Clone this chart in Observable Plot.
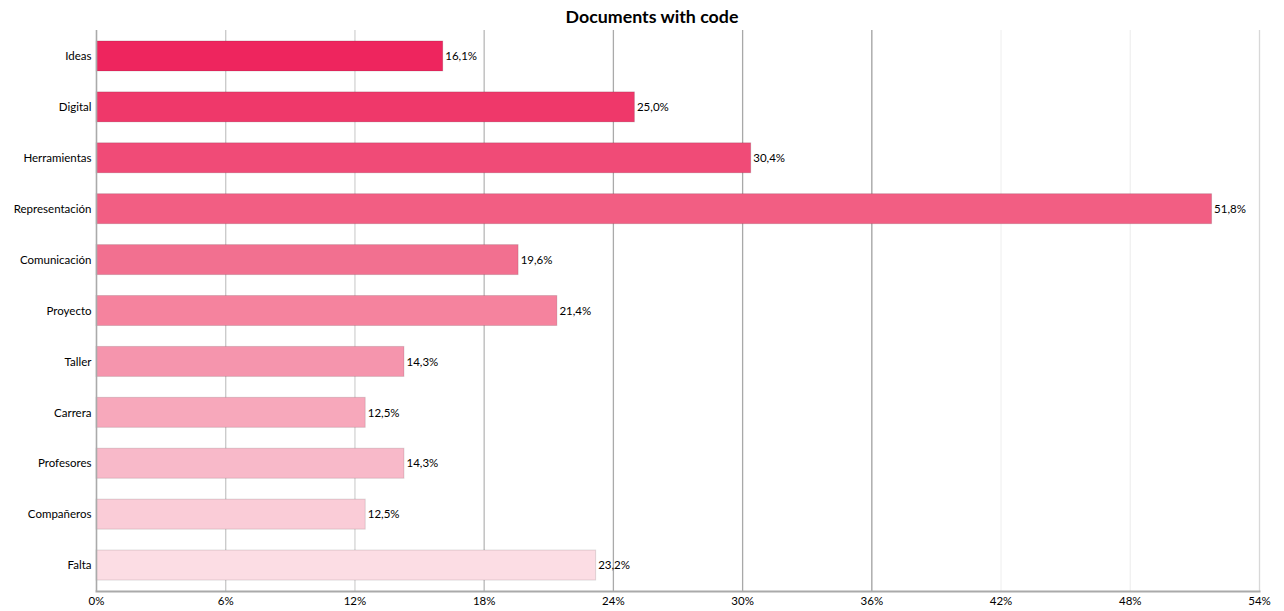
<!DOCTYPE html>
<html>
<head>
<meta charset="utf-8">
<script src="https://cdn.jsdelivr.net/npm/d3@7"></script>
<script src="https://cdn.jsdelivr.net/npm/@observablehq/plot@0.6"></script>
<style>
  html, body { margin: 0; padding: 0; background: #fff; }
  #title { width: 1284px; height: 30px; box-sizing: border-box; padding-left: 20px; text-align: center;
    font-family: Lato, "Noto Sans", sans-serif; font-weight: bold; font-size: 17.8px; line-height: 33px; color: #000; }
  #chart svg { display: block; }
</style>
</head>
<body>
<div id="title">Documents with code</div>
<div id="chart"></div>
<script>
const categories = ["Ideas", "Digital", "Herramientas", "Representación", "Comunicación", "Proyecto", "Taller", "Carrera", "Profesores", "Compañeros", "Falta"];
const values = [16.1, 25.0, 30.4, 51.8, 19.6, 21.4, 14.3, 12.5, 14.3, 12.5, 23.2];
const colors = ["#EE255E", "#EF386A", "#F04B77", "#F25E83", "#F27090", "#F5839E", "#F595AD", "#F7A8BB", "#F8B9C9", "#FACCD7", "#FCDDE4"];
const ticks = [0, 6, 12, 18, 24, 30, 36, 42, 48, 54];
const gridColors = ["#aaa", "#c8c8c8", "#d4d4d4", "#b8b8b8", "#aaa", "#a8a8a8", "#a0a0a0", "#f2f2f2", "#f0f0f0", "#d8d8d8"];

const data = categories.map((c, i) => ({category: c, value: values[i], color: colors[i]}));
const grid = ticks.slice(1).map((t, i) => ({t, color: gridColors[i + 1]}));
const font = "Lato, 'Noto Sans', sans-serif";

const chart = Plot.plot({
  width: 1284,
  height: 581,
  marginLeft: 96,
  marginRight: 25,
  marginTop: 0,
  marginBottom: 20,
  style: {fontFamily: font, fontSize: "11.5px", color: "#000", background: "#fff"},
  x: {domain: [0, 54], ticks: ticks, tickFormat: d => d + "%", label: null},
  y: {domain: categories, paddingInner: 0.41, paddingOuter: 0.215, round: false, label: null},
  marks: [
    Plot.ruleX(grid, {x: "t", stroke: "color", strokeWidth: 1.3}),
    Plot.barX(data, {y: "category", x: "value", fill: "color", stroke: "#000", strokeOpacity: 0.12, strokeWidth: 1}),
    Plot.text(data, {y: "category", x: "value", text: d => d.value.toFixed(1).replace(".", ",") + "%", textAnchor: "start", dx: 2, fill: "#000", fontSize: 11.5}),
    Plot.ruleX([0], {stroke: "#aaa", strokeWidth: 1.6}),
    Plot.frame({anchor: "bottom", stroke: "#aaa", strokeWidth: 2}),
    Plot.axisX({ticks: ticks, tickFormat: d => d + "%", tickSize: 0, tickPadding: 5, fill: "#000", fontSize: 11.5}),
    Plot.axisY({tickSize: 0, tickPadding: 5, fill: "#000", fontSize: 11.5})
  ]
});
document.getElementById("chart").appendChild(chart);
</script>
</body>
</html>
